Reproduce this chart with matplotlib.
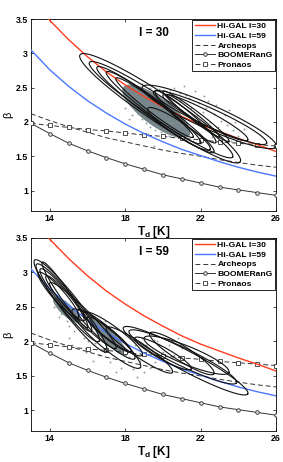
import numpy as np
import matplotlib
matplotlib.use("Agg")
import matplotlib.pyplot as plt
from matplotlib.patches import Polygon

plt.rcParams["font.family"] = ["Liberation Sans", "DejaVu Sans"]
plt.rcParams["font.weight"] = "bold"
plt.rcParams["mathtext.fontset"] = "custom"
plt.rcParams["mathtext.rm"] = "Liberation Sans:bold"
plt.rcParams["mathtext.it"] = "Liberation Sans:bold"
plt.rcParams["mathtext.bf"] = "Liberation Sans:bold"

# ---- model curves, beta vs T_d ----
t_grid = [13, 14, 15, 16, 17, 18, 19, 20, 21, 22, 23, 24, 25, 26]
t_red = [13.9, 14, 15, 16, 17, 18, 19, 20, 21, 22, 23, 24, 25, 26]
higal30 = [3.52, 3.48, 3.20, 2.95, 2.73, 2.54, 2.37, 2.22, 2.08, 1.96, 1.86, 1.76, 1.67, 1.57]
higal59 = [3.05, 2.76, 2.52, 2.31, 2.13, 1.97, 1.83, 1.71, 1.60, 1.51, 1.42, 1.34, 1.27, 1.21]
archeops = [2.12, 2.02, 1.93, 1.85, 1.77, 1.71, 1.65, 1.59, 1.54, 1.50, 1.45, 1.41, 1.37, 1.34]
boomerang = [1.98, 1.83, 1.69, 1.58, 1.48, 1.39, 1.31, 1.23, 1.17, 1.11, 1.05, 1.01, 0.97, 0.93]
pronaos = [1.98, 1.95, 1.92, 1.89, 1.87, 1.84, 1.81, 1.79, 1.76, 1.74, 1.71, 1.69, 1.67, 1.65]

# ---- source contours: end points (T1, b1, T2, b2) and half width [px] ----
cont30 = [
    (15.6, 2.98, 24.1, 1.42, 14), (16.1, 2.87, 23.7, 1.49, 11),
    (16.5, 2.80, 22.7, 1.56, 9), (17.0, 2.73, 22.0, 1.69, 7.5),
    (17.5, 2.64, 21.6, 1.78, 6), (18.9, 2.51, 26.0, 1.64, 12),
    (19.5, 2.44, 25.5, 1.69, 9), (20.0, 2.39, 24.5, 1.74, 7),
    (20.0, 2.45, 23.5, 1.72, 4.5), (20.2, 2.40, 23.0, 1.78, 3.5),
    (19.6, 2.45, 22.8, 1.70, 6), (19.2, 2.20, 22.5, 1.60, 7),
]
cont59 = [
    (13.2, 3.18, 17.0, 1.85, 9), (13.3, 3.12, 16.6, 2.00, 8),
    (13.5, 3.05, 16.2, 2.15, 6.5), (13.8, 2.95, 15.8, 2.30, 5),
    (13.4, 3.00, 15.5, 2.35, 6), (13.6, 3.15, 16.0, 2.20, 5),
    (14.0, 2.85, 17.5, 1.90, 6.5), (15.2, 2.46, 18.8, 1.62, 9),
    (15.5, 2.45, 18.5, 1.75, 7), (15.8, 2.42, 18.9, 1.80, 7),
    (16.0, 2.35, 18.3, 1.85, 5), (17.9, 2.20, 24.5, 1.24, 10),
    (18.2, 2.15, 23.9, 1.40, 9), (19.3, 2.12, 22.7, 1.53, 7.5),
    (18.5, 2.05, 21.5, 1.60, 6), (17.0, 2.20, 20.5, 1.55, 7),
    (19.0, 2.05, 23.5, 1.55, 9),
]
# dense pixel regions
blob30 = [(17.9, 2.51, 21.4, 1.80, 14)]
blob59 = [(14.2, 2.63, 15.6, 2.28, 6), (16.1, 2.34, 18.1, 1.80, 6)]

# individual pixels
pix30_t = [18.1, 18.3, 18.2, 18.5, 18.4, 18.7, 18.6, 18.9, 19.1, 19.3, 19.6, 19.9, 20.3,
           20.8, 21.2, 21.6, 22.0, 18.9, 19.3, 19.8, 20.4, 20.9, 21.4, 21.9, 22.3, 22.7,
           23.1, 23.4, 23.7, 24.0, 22.5, 22.9, 23.2, 21.8, 22.1, 21.5, 20.9, 23.6, 24.2,
           22.6, 23.0, 21.0, 20.5, 19.5, 22.4, 23.3, 21.2, 20.7, 24.3, 23.8, 18.0, 18.35,
           17.9, 18.0, 18.2, 21.7, 22.2, 22.8, 23.5, 20.6, 21.1, 19.2]
pix30_b = [2.45, 2.38, 2.30, 2.52, 2.20, 2.12, 2.42, 2.05, 1.98, 1.92, 1.88, 1.85, 1.80,
           1.78, 1.74, 1.72, 1.70, 2.55, 2.50, 2.48, 2.46, 2.42, 2.35, 2.28, 2.20, 2.12,
           2.02, 1.95, 1.88, 1.80, 2.00, 1.92, 1.84, 2.10, 2.15, 2.20, 2.30, 1.72, 1.70,
           1.78, 1.70, 1.95, 1.98, 1.65, 2.30, 2.10, 2.40, 2.35, 1.90, 2.00, 2.35, 2.10,
           2.40, 2.20, 2.05, 2.45, 2.38, 2.25, 2.18, 2.50, 2.52, 1.82]
pix59_t = [14.0, 14.3, 14.6, 14.8, 15.0, 15.3, 15.5, 15.8, 16.1, 16.4, 16.7, 17.0, 17.3,
           17.6, 17.9, 18.2, 18.5, 18.8, 19.1, 19.4, 19.7, 20.0, 20.3, 20.6, 21.0, 14.5,
           15.2, 15.9, 16.6, 17.2, 17.8, 18.4, 19.0, 19.6, 20.2, 15.0, 16.0, 17.0, 18.0,
           18.6, 19.3, 20.8, 16.3, 17.5, 14.2, 15.6, 16.9, 18.9, 19.8, 20.5, 14.9, 15.4,
           16.8, 17.4, 19.5, 20.9]
pix59_b = [2.70, 2.55, 2.40, 2.58, 2.22, 2.15, 2.40, 2.05, 2.30, 1.98, 2.20, 1.90, 2.10,
           1.85, 2.00, 1.78, 1.95, 1.72, 1.95, 1.88, 2.00, 1.85, 1.95, 1.80, 1.90, 2.35,
           1.95, 1.85, 1.80, 1.70, 1.62, 1.60, 1.55, 1.70, 1.75, 2.05, 2.00, 1.95, 2.10,
           1.48, 1.62, 2.05, 1.72, 1.55, 2.50, 2.45, 2.30, 2.05, 1.95, 2.00, 2.30, 2.25,
           2.05, 1.98, 2.02, 1.95]

RED = "#ff3c1e"
BLUE = "#4b78ff"
PIX = "#8e9c9c"
FILL = "#76868a"


def ellipse_poly(ax, t1, b1, t2, b2, hw):
    # build the contour in pixel space so it stays an ellipse
    p = ax.transData.transform([[t1, b1], [t2, b2]])
    c = p.mean(axis=0)
    u = (p[1] - p[0]) / 2.0
    n = np.array([-u[1], u[0]]) / np.hypot(*u) * hw
    s = np.linspace(0, 2 * np.pi, 90)
    pts = c + np.outer(np.cos(s), u) + np.outer(np.sin(s), n)
    return ax.transData.inverted().transform(pts)


def panel(ax, label, conts, blobs, pt, pb):
    ax.set_xlim(13, 26)
    ax.set_ylim(0.7, 3.5)

    for (t1, b1, t2, b2, hw) in blobs:
        ax.add_patch(Polygon(ellipse_poly(ax, t1, b1, t2, b2, hw), closed=True,
                             facecolor=FILL, edgecolor="none", zorder=2))
    ax.scatter(pt, pb, s=1.8, c=PIX, linewidths=0, zorder=2)

    ax.plot(t_red, higal30, color=RED, lw=1.0, label="Hi-GAL l=30", zorder=4)
    ax.plot(t_grid, higal59, color=BLUE, lw=1.0, label="Hi-GAL l=59", zorder=4)
    ax.plot(t_grid, archeops, color="#333333", lw=0.7, ls=(0, (5, 3)),
            label="Archeops", zorder=3)
    ax.plot(t_grid, boomerang, color="#333333", lw=0.7, marker="o", ms=2.6,
            mfc="#dddddd", mec="#333333", mew=0.6, label="BOOMERanG", zorder=3)
    ax.plot(t_grid, pronaos, color="#333333", lw=0.7, ls=(0, (5, 3)), marker="s",
            ms=2.2, mfc="white", mec="#333333", mew=0.6, label="Pronaos", zorder=3)

    for (t1, b1, t2, b2, hw) in conts:
        xy = ellipse_poly(ax, t1, b1, t2, b2, hw)
        ax.plot(xy[:, 0], xy[:, 1], color="#111111", lw=0.8, zorder=5)

    ax.text(19.5, 3.3, label, fontsize=8.5, fontweight="bold", ha="center", va="center")
    ax.set_xticks([14, 18, 22, 26])
    ax.set_yticks([1, 1.5, 2, 2.5, 3, 3.5])
    ax.set_yticklabels(["1", "1.5", "2", "2.5", "3", "3.5"])
    ax.tick_params(direction="in", top=True, right=True, length=2.5, width=0.5,
                   labelsize=6.3, pad=2)
    for lab in ax.get_xticklabels() + ax.get_yticklabels():
        lab.set_fontweight("bold")
    for sp in ax.spines.values():
        sp.set_linewidth(0.6)
    ax.set_xlabel("T$_\\mathregular{d}$ [K]", fontsize=8.5, fontweight="bold", labelpad=1)
    ax.set_ylabel("β", fontsize=8, labelpad=2)
    leg = ax.legend(loc="upper right", fontsize=6.1, frameon=True, fancybox=False,
                    framealpha=1, edgecolor="black", borderaxespad=0.1,
                    handlelength=2.4, handletextpad=0.3, borderpad=0.3,
                    labelspacing=0.2)
    leg.get_frame().set_linewidth(0.6)
    leg.set_zorder(10)
    for txt in leg.get_texts():
        txt.set_fontweight("bold")


fig = plt.figure(figsize=(2.83, 4.62), dpi=100)
ax1 = fig.add_axes([0.1095, 0.543, 0.866, 0.4156])
ax2 = fig.add_axes([0.1095, 0.067, 0.866, 0.418])
panel(ax1, "l = 30", cont30, blob30, pix30_t, pix30_b)
panel(ax2, "l = 59", cont59, blob59, pix59_t, pix59_b)

fig.savefig("out.png", dpi=100)
